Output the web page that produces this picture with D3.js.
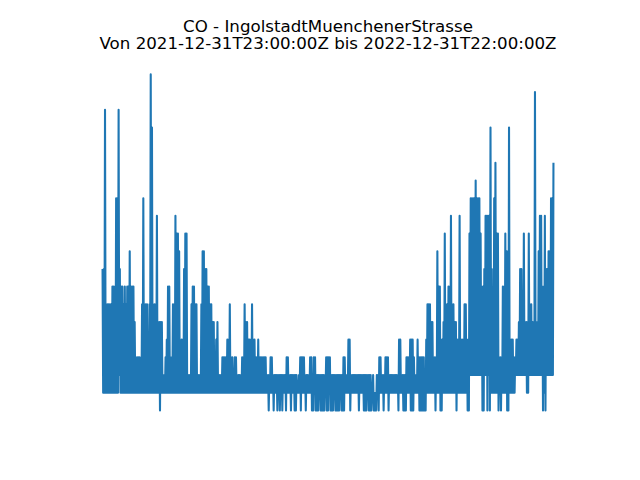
<!DOCTYPE html>
<html>
<head>
<meta charset="utf-8">
<script src="https://cdn.jsdelivr.net/npm/d3@7"></script>
<style>
  body { margin: 0; background: #fff; }
</style>
</head>
<body>
<div class="container"></div>
<script>
const title = 'CO - IngolstadtMuenchenerStrasse'
const subtitle = 'Von 2021-12-31T23:00:00Z bis 2022-12-31T22:00:00Z'
const start = new Date('2021-12-31T23:00:00Z')
const end = new Date('2022-12-31T22:00:00Z')

// daily peak and daily low of CO, in 0.1 mg/m³
const winterHigh = [
  9, 9, 18, 7, 7, 7, 7, 7, 8, 8,
  8, 13, 13, 18, 9, 8, 8, 7, 8, 7,
  8, 8, 10, 8, 8, 8, 6, 4, 4, 4,
  4, 3, 7, 13, 7, 7, 7, 3, 7, 20,
  17, 6, 7, 7, 12, 6, 6, 6, 6, 3,
  3, 4, 5, 8, 8, 4, 4, 7, 7, 12,
  11, 11, 10, 3, 5, 5, 9, 11, 11, 3,
  3, 3, 7, 8, 8, 7, 7, 3, 3, 3,
  7, 10, 10, 9, 9, 8, 8, 7, 7, 6
]
const winterLow = [
  2, 2, 2, 2, 2, 2, 2, 2, 2, 2,
  2, 2, 2, 3, 2, 2, 2, 2, 2, 2,
  2, 2, 2, 2, 2, 2, 2, 2, 2, 2,
  2, 2, 2, 2, 2, 2, 2, 2, 2, 2,
  2, 2, 2, 2, 2, 2, 1, 2, 2, 2,
  2, 2, 2, 2, 2, 2, 2, 2, 2, 2,
  2, 2, 2, 2, 2, 2, 2, 2, 2, 2,
  2, 2, 2, 2, 2, 2, 2, 2, 2, 2,
  2, 2, 2, 2, 2, 2, 2, 2, 2, 2
]
const springHigh = [
  6, 3, 5, 6, 3, 3, 3, 4, 4, 4,
  4, 5, 5, 7, 4, 4, 3, 4, 4, 3,
  3, 3, 3, 4, 4, 7, 6, 6, 5, 5,
  5, 7, 5, 5, 4, 4, 5, 4, 4, 4,
  4, 4, 4, 3, 3, 3, 4, 4, 3, 3,
  3, 3, 3, 3, 3, 3, 3, 3, 3, 4,
  4, 3, 3, 3, 3, 3, 3, 3, 2, 3,
  4, 4, 4, 4, 3, 3, 3, 3, 4, 4,
  3, 4, 4, 3, 3, 3, 3, 3, 3, 3
]
const springLow = [
  2, 2, 2, 2, 2, 2, 2, 2, 2, 2,
  2, 2, 2, 2, 2, 2, 2, 2, 2, 2,
  2, 2, 2, 2, 2, 2, 2, 2, 2, 2,
  2, 2, 2, 2, 2, 2, 2, 2, 2, 2,
  2, 2, 2, 2, 1, 2, 2, 2, 1, 2,
  2, 1, 2, 1, 2, 1, 2, 2, 1, 2,
  2, 2, 1, 2, 2, 1, 1, 2, 2, 2,
  1, 2, 2, 2, 1, 2, 2, 2, 2, 1,
  1, 2, 1, 1, 1, 2, 1, 1, 1, 1
]
const summerHigh = [
  3, 4, 4, 4, 4, 3, 3, 3, 3, 3,
  3, 3, 3, 3, 3, 4, 4, 3, 3, 5,
  5, 3, 3, 3, 3, 3, 3, 3, 3, 3,
  3, 3, 3, 3, 3, 3, 3, 3, 2, 3,
  2, 2, 3, 3, 4, 4, 3, 3, 3, 4,
  4, 4, 3, 3, 3, 3, 3, 3, 3, 3,
  5, 5, 3, 3, 3, 3, 4, 4, 4, 5,
  5, 5, 4, 3, 3, 5, 4, 4, 4, 4,
  4, 3, 5, 7, 7, 7, 6, 6, 4, 4
]
const summerLow = [
  2, 1, 1, 2, 1, 1, 1, 2, 1, 1,
  1, 1, 2, 1, 1, 1, 2, 2, 2, 2,
  1, 2, 2, 2, 2, 2, 2, 1, 2, 2,
  2, 1, 1, 1, 2, 1, 1, 1, 2, 1,
  1, 1, 2, 1, 2, 2, 2, 1, 2, 2,
  2, 1, 2, 2, 2, 2, 2, 2, 2, 1,
  2, 2, 2, 1, 1, 1, 2, 2, 2, 1,
  1, 1, 2, 2, 2, 2, 1, 1, 1, 1,
  1, 1, 2, 2, 2, 2, 2, 2, 2, 1
]
const autumnHigh = [
  4, 10, 8, 8, 5, 5, 6, 11, 7, 7,
  8, 8, 12, 7, 7, 6, 6, 5, 5, 12,
  5, 5, 5, 7, 7, 5, 5, 11, 13, 13,
  13, 13, 14, 13, 13, 13, 11, 8, 8, 9,
  12, 12, 12, 12, 17, 9, 7, 13, 15, 11,
  11, 4, 4, 4, 8, 8, 11, 10, 10, 17,
  5, 5, 5, 4, 4, 5, 5, 6, 9, 9,
  7, 11, 6, 6, 6, 11, 7, 7, 6, 6,
  19, 6, 6, 10, 12, 12, 8, 8, 12, 9,
  9, 10, 10, 13, 13, 15
]
const autumnLow = [
  2, 2, 2, 1, 1, 2, 2, 2, 2, 2,
  2, 2, 2, 2, 2, 2, 1, 2, 2, 2,
  2, 2, 2, 2, 2, 1, 1, 3, 3, 3,
  3, 3, 3, 3, 3, 3, 3, 1, 1, 3,
  3, 1, 3, 1, 2, 2, 2, 2, 2, 2,
  1, 2, 1, 2, 2, 2, 2, 1, 1, 2,
  2, 2, 2, 2, 3, 3, 3, 3, 3, 3,
  3, 3, 3, 2, 2, 3, 3, 3, 3, 3,
  3, 3, 3, 3, 3, 3, 1, 2, 1, 3,
  3, 3, 3, 3, 3
]

const highs = [...winterHigh, ...springHigh, ...summerHigh, ...autumnHigh]
const lows = [...winterLow, ...springLow, ...summerLow, ...autumnLow]

// peak at the start of each day, low half a day later
const data = []
highs.forEach((v, i) => {
  data.push({ t: d3.min([d3.timeHour.offset(start, i * 24), end]), v: v / 10 })
  if (i < lows.length) {
    data.push({ t: d3.timeHour.offset(start, i * 24 + 12), v: lows[i] / 10 })
  }
})

const w = 640
const h = 480
const plotL = 80, plotR = 576, plotT = 57.6, plotB = 427.2

const svg = d3.select('.container')
  .append('svg')
  .attr('width', w)
  .attr('height', h)

// matplotlib style 5% margins
const tPad = (end - start) * 0.05
const xScale = d3.scaleTime()
  .domain([new Date(+start - tPad), new Date(+end + tPad)])
  .range([plotL, plotR])

const [vMin, vMax] = d3.extent(data, d => d.v)
const vPad = (vMax - vMin) * 0.05
const yScale = d3.scaleLinear()
  .domain([vMin - vPad, vMax + vPad])
  .range([plotB, plotT])

const line = d3.line()
  .x(d => xScale(d.t))
  .y(d => yScale(d.v))

svg.append('path')
  .datum(data)
  .attr('d', line)
  .attr('fill', 'none')
  .attr('stroke', '#1f77b4')
  .attr('stroke-width', 2.08)
  .attr('stroke-linejoin', 'round')

svg.append('text')
  .text(title)
  .attr('x', (plotL + plotR) / 2)
  .attr('y', 32)
  .attr('text-anchor', 'middle')
  .attr('font-family', 'DejaVu Sans')
  .attr('font-size', 16.67)

svg.append('text')
  .text(subtitle)
  .attr('x', (plotL + plotR) / 2)
  .attr('y', 49.3)
  .attr('text-anchor', 'middle')
  .attr('font-family', 'DejaVu Sans')
  .attr('font-size', 16.67)
</script>
</body>
</html>
